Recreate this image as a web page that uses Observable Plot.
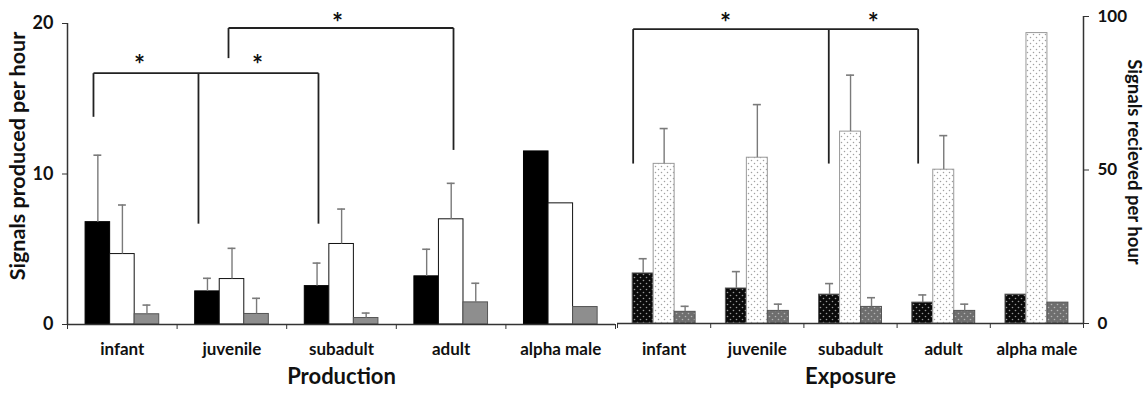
<!DOCTYPE html>
<html>
<head>
<meta charset="utf-8">
<script src="https://cdn.jsdelivr.net/npm/d3@7"></script>
<script src="https://cdn.jsdelivr.net/npm/@observablehq/plot@0.6"></script>
<style>
  html, body { margin: 0; padding: 0; background: #fff; }
  #wrap { display: flex; width: 1146px; height: 393px; }
  #wrap svg { display: block; overflow: visible; }
</style>
</head>
<body>
<svg width="0" height="0" style="position:absolute">
  <defs>
    <pattern id="pDark" width="6" height="6" patternUnits="userSpaceOnUse">
      <rect width="6" height="6" fill="#0a0a0a"/>
      <circle cx="1.5" cy="1.5" r="0.8" fill="#9a9a9a"/>
      <circle cx="4.5" cy="4.5" r="0.8" fill="#9a9a9a"/>
    </pattern>
    <pattern id="pLight" width="6" height="6" patternUnits="userSpaceOnUse">
      <rect width="6" height="6" fill="#ffffff"/>
      <circle cx="1.5" cy="1.5" r="0.75" fill="#a0a0a0"/>
      <circle cx="4.5" cy="4.5" r="0.75" fill="#a0a0a0"/>
    </pattern>
    <pattern id="pGray" width="6" height="6" patternUnits="userSpaceOnUse">
      <rect width="6" height="6" fill="#6e6e6e"/>
      <circle cx="1.5" cy="1.5" r="0.8" fill="#b4b4b4"/>
      <circle cx="4.5" cy="4.5" r="0.8" fill="#b4b4b4"/>
    </pattern>
  </defs>
</svg>
<div id="wrap"></div>
<script>
// ---------- data ----------
const categories = ["infant", "juvenile", "subadult", "adult", "alpha male"];

// Production (signals produced per hour), left axis
const prodBlack    = [6.8, 2.2, 2.55, 3.2, 11.5];
const prodBlackErr = [11.25, 3.07, 4.08, 5.0, null];
const prodWhite    = [4.68, 3.02, 5.35, 6.99, 8.05];
const prodWhiteErr = [7.94, 5.06, 7.67, 9.38, null];
const prodGray     = [0.68, 0.7, 0.43, 1.47, 1.16];
const prodGrayErr  = [1.29, 1.74, 0.76, 2.74, null];

// Exposure (signals received per hour), right axis
const expBlack    = [16.3, 11.4, 9.4, 6.8, 9.4];
const expBlackErr = [21.1, 16.9, 13.0, 9.3, null];
const expDot      = [52, 54, 62.5, 50.1, 94.6];
const expDotErr   = [63.5, 71.3, 80.9, 61.2, null];
const expGray     = [3.8, 4.1, 5.4, 4.1, 6.8];
const expGrayErr  = [5.6, 6.3, 8.4, 6.3, null];

// significance brackets (x in category units, y in value units)
const bracketsProd = [
  {x1: 0.237, y1: 16.7, x2: 2.29, y2: 16.7},
  {x1: 0.237, y1: 16.7, x2: 0.237, y2: 13.8},
  {x1: 1.195, y1: 16.7, x2: 1.195, y2: 6.7},
  {x1: 2.29,  y1: 16.7, x2: 2.29,  y2: 6.7},
  {x1: 1.469, y1: 19.7, x2: 3.522, y2: 19.7},
  {x1: 1.469, y1: 19.7, x2: 1.469, y2: 17.7},
  {x1: 3.522, y1: 19.7, x2: 3.522, y2: 11.6}
];
const starsProd = [{x: 0.657, y: 17.6}, {x: 1.734, y: 17.6}, {x: 2.464, y: 20.4}];

const bracketsExp = [
  {x1: 0.168, y1: 95.9, x2: 3.226, y2: 95.9},
  {x1: 0.168, y1: 95.9, x2: 0.168, y2: 52.1},
  {x1: 2.267, y1: 95.9, x2: 2.267, y2: 52.1},
  {x1: 3.226, y1: 95.9, x2: 3.226, y2: 52.1}
];
const starsExp = [{x: 1.159, y: 99.6}, {x: 2.744, y: 99.6}];

// ---------- helpers ----------
function buildRows(series, pad, w) {
  const rows = [];
  series.forEach(([vals, errs], j) => {
    vals.forEach((v, i) => {
      const x1 = i + pad + j * w;
      rows.push({cat: categories[i], s: j, v, err: errs[i], x1, x2: x1 + w, xc: x1 + w / 2});
    });
  });
  return rows;
}

const FONT = "Lato, 'Open Sans', sans-serif";
const AXIS = "#333";
const ERR = "#7a7a7a";

function barMarks(rows, styles, cap) {
  const marks = [];
  styles.forEach((st, j) => {
    marks.push(Plot.rectY(rows.filter(d => d.s === j), {x1: "x1", x2: "x2", y: "v", fill: st.fill, stroke: st.stroke, strokeWidth: 1}));
  });
  const withErr = rows.filter(d => d.err != null);
  marks.push(Plot.ruleX(withErr, {x: "xc", y1: "v", y2: "err", stroke: ERR, strokeWidth: 1.4}));
  marks.push(Plot.ruleY(withErr, {y: "err", x1: d => d.xc - cap, x2: d => d.xc + cap, stroke: ERR, strokeWidth: 1.6}));
  return marks;
}

// ---------- Production (left) ----------
const prodRows = buildRows([[prodBlack, prodBlackErr], [prodWhite, prodWhiteErr], [prodGray, prodGrayErr]], 0.165, 0.224);
const left = Plot.plot({
  width: 615, height: 393,
  marginLeft: 67, marginRight: 0, marginTop: 23, marginBottom: 69,
  style: {fontFamily: FONT, color: "#111", background: "transparent"},
  x: {domain: [0, 5], axis: null},
  y: {domain: [0, 20], axis: null},
  marks: [
    ...barMarks(prodRows, [
      {fill: "#000", stroke: "#000"},
      {fill: "#fff", stroke: "#111"},
      {fill: "#8e8e8e", stroke: "#555"}
    ], 0.036),
    Plot.ruleX([0], {stroke: AXIS, strokeWidth: 1.5}),
    Plot.ruleY([0], {x1: 0, x2: 5, stroke: AXIS, strokeWidth: 1.5}),
    Plot.axisY({ticks: [0, 10, 20], tickSize: 5, tickPadding: 9, fontSize: 18, fontWeight: "bold", label: null, stroke: AXIS}),
    Plot.axisX({ticks: [0, 1, 2, 3, 4, 5], tickSize: 5, tickFormat: () => "", label: null, stroke: AXIS}),
    Plot.axisX({ticks: categories.map((c, i) => i + 0.5), tickSize: 0, tickPadding: 18, tickFormat: v => categories[Math.floor(v)], fontSize: 17, fontWeight: "bold", label: null}),
    Plot.link(bracketsProd, {x1: "x1", y1: "y1", x2: "x2", y2: "y2", stroke: "#222", strokeWidth: 1.8}),
    Plot.text(starsProd, {x: "x", y: "y", text: () => "*", fontSize: 26, fontWeight: "bold", dy: 6}),
    Plot.text(["Production"], {text: d => d, frameAnchor: "bottom", dy: 59, fontSize: 22, fontWeight: "bold"}),
    Plot.text(["Signals produced per hour"], {text: d => d, frameAnchor: "left", textAnchor: "middle", rotate: -90, dx: -49, dy: -18, fontSize: 21.5, fontWeight: "bold"})
  ]
});

// ---------- Exposure (right) ----------
const expRows = buildRows([[expBlack, expBlackErr], [expDot, expDotErr], [expGray, expGrayErr]], 0.163, 0.225);
const right = Plot.plot({
  width: 531, height: 393,
  marginLeft: 2, marginRight: 63, marginTop: 16, marginBottom: 70,
  style: {fontFamily: FONT, color: "#111", background: "transparent"},
  x: {domain: [0, 5], axis: null},
  y: {domain: [0, 100], axis: null},
  marks: [
    ...barMarks(expRows, [
      {fill: "url(#pDark)", stroke: "#555"},
      {fill: "url(#pLight)", stroke: "#999"},
      {fill: "url(#pGray)", stroke: "#555"}
    ], 0.043),
    Plot.ruleX([5], {stroke: AXIS, strokeWidth: 1.5}),
    Plot.ruleY([0], {x1: 0, x2: 5, stroke: AXIS, strokeWidth: 1.5}),
    Plot.axisY({anchor: "right", ticks: [0, 50, 100], tickSize: 5, tickPadding: 9, fontSize: 17, fontWeight: "bold", label: null, stroke: AXIS}),
    Plot.axisX({ticks: [0, 1, 2, 3, 4, 5], tickSize: 5, tickFormat: () => "", label: null, stroke: AXIS}),
    Plot.axisX({ticks: categories.map((c, i) => i + 0.5), tickSize: 0, tickPadding: 19, tickFormat: v => categories[Math.floor(v)], fontSize: 17, fontWeight: "bold", label: null}),
    Plot.link(bracketsExp, {x1: "x1", y1: "y1", x2: "x2", y2: "y2", stroke: "#222", strokeWidth: 1.8}),
    Plot.text(starsExp, {x: "x", y: "y", text: () => "*", fontSize: 26, fontWeight: "bold", dy: 6}),
    Plot.text(["Exposure"], {text: d => d, frameAnchor: "bottom", dy: 60, fontSize: 22, fontWeight: "bold"}),
    Plot.text(["Signals recieved per hour"], {text: d => d, frameAnchor: "right", textAnchor: "middle", rotate: 90, dx: 50, dy: -8, fontSize: 18.5, fontWeight: "bold"})
  ]
});

const wrap = document.getElementById("wrap");
wrap.appendChild(left);
wrap.appendChild(right);
</script>
</body>
</html>
